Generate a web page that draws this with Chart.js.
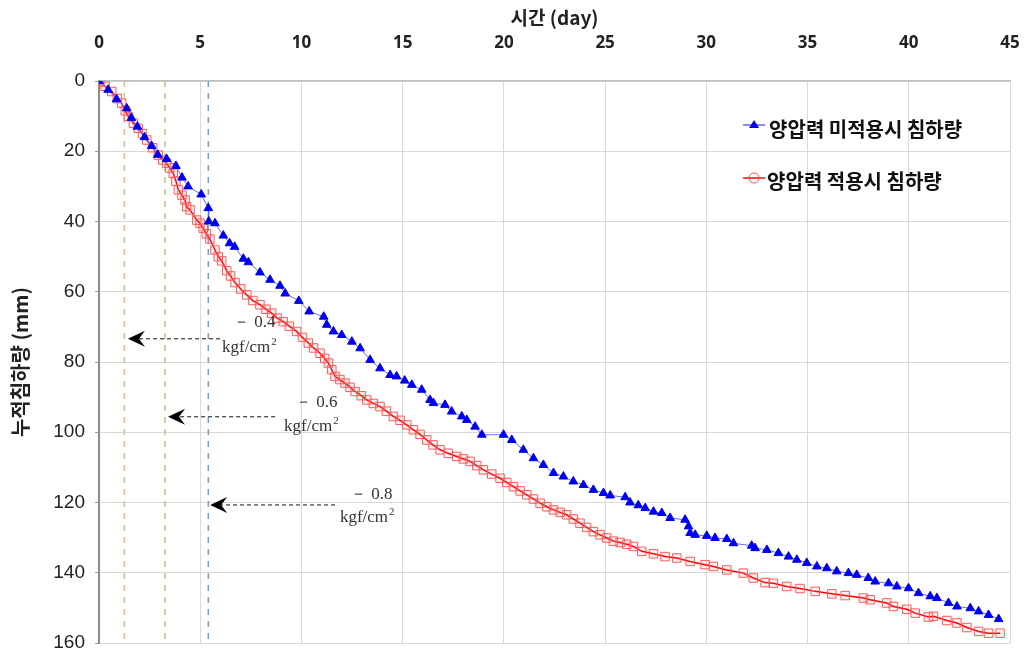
<!DOCTYPE html>
<html>
<head>
<meta charset="utf-8">
<script src="https://cdn.jsdelivr.net/npm/chart.js@4.4.1/dist/chart.umd.min.js"></script>
<style>
  html, body { margin: 0; padding: 0; background: #fff; }
</style>
</head>
<body>
<canvas id="myChart" width="1026" height="653"></canvas>
<script>
// 양압력 미적용시 (blue triangles)
const blueDays = [0, 0.45, 0.87, 1.37, 1.6, 1.9, 2.25, 2.6, 2.9, 3.34, 3.8, 4.1, 4.4, 5.05, 5.4, 5.42, 5.73, 6.14, 6.45, 6.7,
  7.13, 7.38, 7.95, 8.45, 8.94, 9.2, 9.87, 10.38, 11.1, 11.25, 11.58, 11.99, 12.49, 12.9, 13.39, 13.88, 14.38, 14.7, 15.1, 15.45,
  15.94, 16.35, 16.52, 17.09, 17.42, 17.92, 18.17, 18.58, 18.91, 19.98, 20.39, 20.96, 21.46, 21.95, 22.45, 22.94, 23.43, 23.93, 24.42, 24.92,
  25.25, 25.99, 26.23, 26.64, 26.98, 27.39, 27.8, 28.21, 28.95, 29.12, 29.2, 29.45, 30.02, 30.43, 31.01, 31.34, 32.24, 32.41, 32.99, 33.56,
  34.06, 34.47, 34.96, 35.46, 35.95, 36.44, 37.02, 37.43, 38.0, 38.34, 39.0, 39.41, 39.99, 40.48, 41.06, 41.39, 41.96, 42.38, 43.04, 43.45,
  43.94, 44.44];
const blueMm = [0, 2.5, 5.2, 7.8, 10.5, 13, 16, 18.5, 21, 22.2, 24.2, 27.5, 30, 32.3, 36.2, 40, 40.5, 44, 46.2, 47.2,
  50.6, 51.6, 54.5, 56.6, 58.3, 60.5, 62.6, 65.6, 67.1, 69.4, 71.3, 72.3, 74.2, 76.1, 79.4, 81.8, 83.7, 84.1, 85.3, 86.5,
  87.9, 90.8, 91.7, 92.2, 94.1, 95.5, 96.5, 98.4, 100.7, 100.7, 102.2, 105.0, 107.4, 109.3, 111.6, 112.6, 114.0, 115.0, 116.4, 117.3,
  118.0, 118.5, 120.0, 120.8, 121.6, 122.6, 123.0, 124.4, 124.9, 126.8, 128.7, 129.2, 129.5, 130.1, 130.4, 131.6, 132.3, 133.0, 133.5, 134.4,
  135.4, 136.3, 137.2, 138.2, 138.7, 139.6, 140.1, 140.6, 141.5, 142.5, 143.0, 143.9, 144.4, 145.8, 146.7, 147.2, 148.6, 149.6, 150.1, 151.0,
  152.0, 153.2];

// 양압력 적용시 (red squares)
const redDays = [0, 0.05, 0.3, 0.63, 0.9, 1.12, 1.3, 1.45, 1.7, 1.94, 2.15, 2.36, 2.65, 2.93, 3.15, 3.34, 3.5, 3.67, 3.8, 3.92,
  4.1, 4.25, 4.33, 4.5, 4.83, 4.99, 5.15, 5.3, 5.48, 5.73, 5.89, 6.06, 6.31, 6.5, 6.72, 7.0, 7.3, 7.6, 7.95, 8.25,
  8.53, 8.8, 9.1, 9.4, 9.76, 10.05, 10.34, 10.6, 10.92, 11.15, 11.33, 11.5, 11.66, 11.9, 12.15, 12.4, 12.65, 12.95, 13.23, 13.55,
  13.88, 14.2, 14.54, 14.87, 15.2, 15.53, 15.86, 16.19, 16.5, 16.85, 17.25, 17.67, 18.0, 18.33, 18.66, 18.99, 19.4, 19.81, 20.14, 20.47,
  20.8, 21.13, 21.46, 21.79, 22.12, 22.45, 22.78, 23.1, 23.43, 23.76, 24.09, 24.42, 24.75, 25.08, 25.41, 25.74, 26.07, 26.4, 26.81, 27.39,
  27.96, 28.54, 29.2, 29.94, 30.35, 31.01, 31.83, 32.32, 32.9, 33.31, 33.97, 34.63, 35.38, 36.2, 36.86, 37.76, 38.09, 38.91, 39.24, 39.9,
  40.32, 40.97, 41.22, 41.88, 42.38, 42.87, 43.45, 43.94, 44.51];
const redMm = [0, 0.3, 1.5, 3, 5, 6.3, 8.5, 10.1, 12, 13.5, 15, 16.8, 19, 21.1, 22.5, 23.4, 24.8, 26.3, 28.5, 31.0,
  32.5, 33.9, 35.8, 36.7, 39.6, 40.5, 41.9, 43.5, 45.0, 48.1, 50.0, 51.2, 54.0, 55.5, 57.4, 59.2, 60.9, 62.5, 63.7, 65.0,
  66.1, 67.5, 68.5, 69.8, 71.3, 73, 74.6, 76, 77.5, 79, 80.3, 82.2, 84.1, 85, 86.0, 87.2, 88.4, 89.6, 90.8, 91.8,
  92.7, 94, 95.5, 96.6, 97.9, 99.3, 100.6, 102.2, 103.6, 105.0, 106, 106.9, 107.6, 108.3, 109.5, 110.7, 111.9, 113.1, 114.3, 115.5,
  116.7, 117.8, 119, 120.2, 121.2, 122.1, 122.8, 123.5, 124.7, 125.9, 127.1, 128.3, 129.2, 130.1, 131.0, 131.4, 131.9, 132.5, 133.9, 134.6,
  135.4, 135.8, 136.8, 137.7, 138.2, 139.2, 140.1, 141.5, 142.8, 143.0, 143.9, 144.5, 145.3, 146.0, 146.5, 147.2, 147.7, 148.6, 149.6, 150.4,
  151.5, 152.6, 152.4, 153.6, 154.3, 155.6, 156.7, 157.2, 157.2];

const seriesLabels = ['양압력 미적용시 침하량', '양압력 적용시 침하량'];
const xTicks = [0, 5, 10, 15, 20, 25, 30, 35, 40, 45];
const yTicks = [0, 20, 40, 60, 80, 100, 120, 140, 160];

// vertical dashed lines (day) and pressure arrows
const stepDays = [1.25, 3.26, 5.40];
const stepColors = ['#f2b48a', '#b9c283', '#6f9fd8'];
const arrowMm = [73.4, 95.6, 120.7];
const arrowFrom = [5.98, 8.70, 11.66];
const arrowTo = [1.43, 3.41, 5.49];
const pressureText = ['－ 0.4', '－ 0.6', '－ 0.8'];
const pressureTextDay = [6.62, 9.68, 12.4];
const pressureTextMm = [68.9, 91.6, 117.8];
const unitTextDay = [6.08, 9.14, 11.9];
const unitTextMm = [76.0, 98.5, 124.4];

function toPoints(xs, ys) {
    return xs.map((x, i) => ({ x: x, y: ys[i] }));
}

const extras = {
    id: 'extras',
    beforeDatasetsDraw(chart) {
        const { ctx, chartArea, scales: { x } } = chart;
        ctx.save();
        ctx.lineWidth = 1.5;
        ctx.setLineDash([6, 6]);
        stepDays.forEach((d, i) => {
            const px = x.getPixelForValue(d);
            ctx.strokeStyle = stepColors[i];
            ctx.beginPath();
            ctx.moveTo(px, chartArea.top);
            ctx.lineTo(px, chartArea.bottom);
            ctx.stroke();
        });
        ctx.restore();
    },
    afterDatasetsDraw(chart) {
        const { ctx, chartArea, scales: { x, y } } = chart;
        ctx.save();
        // arrows
        for (let i = 0; i < arrowMm.length; i++) {
            const py = y.getPixelForValue(arrowMm[i]);
            const x1 = x.getPixelForValue(arrowFrom[i]);
            const x2 = x.getPixelForValue(arrowTo[i]);
            ctx.strokeStyle = '#111';
            ctx.lineWidth = 1;
            ctx.setLineDash([4, 3]);
            ctx.beginPath();
            ctx.moveTo(x1, py);
            ctx.lineTo(x2 + 8, py);
            ctx.stroke();
            ctx.setLineDash([]);
            ctx.fillStyle = '#000';
            ctx.beginPath();
            ctx.moveTo(x2, py);
            ctx.lineTo(x2 + 17, py - 8);
            ctx.lineTo(x2 + 11, py);
            ctx.lineTo(x2 + 17, py + 8);
            ctx.closePath();
            ctx.fill();

            ctx.fillStyle = '#333';
            ctx.font = '17px "Liberation Serif"';
            ctx.textAlign = 'left';
            ctx.textBaseline = 'middle';
            ctx.fillText(pressureText[i], x.getPixelForValue(pressureTextDay[i]), y.getPixelForValue(pressureTextMm[i]));
            const ux = x.getPixelForValue(unitTextDay[i]);
            const uy = y.getPixelForValue(unitTextMm[i]);
            ctx.fillText('kgf/cm', ux, uy);
            const w = ctx.measureText('kgf/cm').width;
            ctx.font = '11px "Liberation Serif"';
            ctx.fillText('2', ux + w + 1, uy - 6);
        }

        // legend
        const lx = chartArea.left + (chartArea.right - chartArea.left) * 0.707;
        const rows = [chartArea.top + 44, chartArea.top + 97];
        ctx.lineWidth = 1.5;
        // blue
        ctx.strokeStyle = '#6060ff';
        ctx.beginPath();
        ctx.moveTo(lx, rows[0]);
        ctx.lineTo(lx + 22, rows[0]);
        ctx.stroke();
        ctx.fillStyle = '#0000ee';
        ctx.beginPath();
        ctx.moveTo(lx + 11, rows[0] - 5);
        ctx.lineTo(lx + 16, rows[0] + 3);
        ctx.lineTo(lx + 6, rows[0] + 3);
        ctx.closePath();
        ctx.fill();
        // red
        ctx.strokeStyle = '#ff0000';
        ctx.beginPath();
        ctx.moveTo(lx, rows[1]);
        ctx.lineTo(lx + 22, rows[1]);
        ctx.stroke();
        ctx.strokeStyle = '#ff5050';
        ctx.lineWidth = 1;
        ctx.beginPath();
        ctx.arc(lx + 11, rows[1], 5, 0, Math.PI * 2);
        ctx.stroke();

        ctx.fillStyle = '#111';
        ctx.font = 'bold 20px "Noto Sans CJK KR"';
        ctx.textAlign = 'left';
        ctx.textBaseline = 'middle';
        ctx.fillText(seriesLabels[0], lx + 26, rows[0] + 4);
        ctx.fillText(seriesLabels[1], lx + 24, rows[1] + 3);
        ctx.restore();
    }
};

let myChart = null;

function createChart() {
    if (myChart !== null) {
        myChart.destroy();
    }
    const ctx = document.getElementById('myChart').getContext('2d');
    myChart = new Chart(ctx, {
        type: 'line',
        data: {
            datasets: [
                {
                    label: seriesLabels[0],
                    data: toPoints(blueDays, blueMm),
                    borderColor: '#6a6aff',
                    borderWidth: 1,
                    backgroundColor: '#0000f0',
                    pointStyle: 'triangle',
                    pointRadius: 5,
                    pointBorderColor: '#0000f0',
                    pointBorderWidth: 1,
                    fill: false,
                    tension: 0
                },
                {
                    label: seriesLabels[1],
                    data: toPoints(redDays, redMm),
                    borderColor: '#ff0000',
                    borderWidth: 1.5,
                    backgroundColor: 'rgba(255,80,80,0.08)',
                    pointStyle: 'rect',
                    pointRadius: 6,
                    pointBorderColor: '#ff5a5a',
                    pointBorderWidth: 1,
                    fill: false,
                    tension: 0
                }
            ]
        },
        options: {
            responsive: false,
            animation: false,
            layout: {
                padding: { left: 0, right: 16, top: 0, bottom: 10 }
            },
            plugins: {
                legend: { display: false },
                tooltip: { enabled: false }
            },
            scales: {
                x: {
                    type: 'linear',
                    position: 'top',
                    min: 0,
                    max: 45,
                    afterBuildTicks: (s) => { s.ticks = xTicks.map(v => ({ value: v })); },
                    afterFit: (s) => { s.height = 81; s.paddingLeft = 0; s.paddingRight = 0; },
                    title: {
                        display: true,
                        text: '시간 (day)',
                        color: '#222',
                        font: { family: '"Noto Sans CJK KR"', size: 19, weight: 'bold' },
                        padding: { top: 6, bottom: 0 }
                    },
                    grid: {
                        color: '#d9d9d9',
                        drawTicks: false
                    },
                    border: { color: '#c0c0c0', width: 1.5 },
                    ticks: {
                        padding: 28,
                        color: '#222',
                        font: { family: '"Noto Sans"', size: 17, weight: 'bold' }
                    }
                },
                y: {
                    type: 'linear',
                    reverse: true,
                    min: 0,
                    max: 160,
                    afterBuildTicks: (s) => { s.ticks = yTicks.map(v => ({ value: v })); },
                    afterFit: (s) => { s.width = 99; s.paddingTop = 0; s.paddingBottom = 0; },
                    title: {
                        display: true,
                        text: '누적침하량 (mm)',
                        color: '#222',
                        font: { family: '"Noto Sans CJK KR"', size: 20, weight: 'bold' },
                        padding: { top: 8, bottom: 0 }
                    },
                    grid: {
                        color: '#d9d9d9',
                        tickLength: 4,
                        tickColor: '#999'
                    },
                    border: { color: '#8c8c8c', width: 2 },
                    ticks: {
                        padding: 10,
                        color: '#222',
                        font: { family: '"Liberation Sans"', size: 19 }
                    }
                }
            }
        },
        plugins: [extras]
    });
}

createChart();
</script>
</body>
</html>
